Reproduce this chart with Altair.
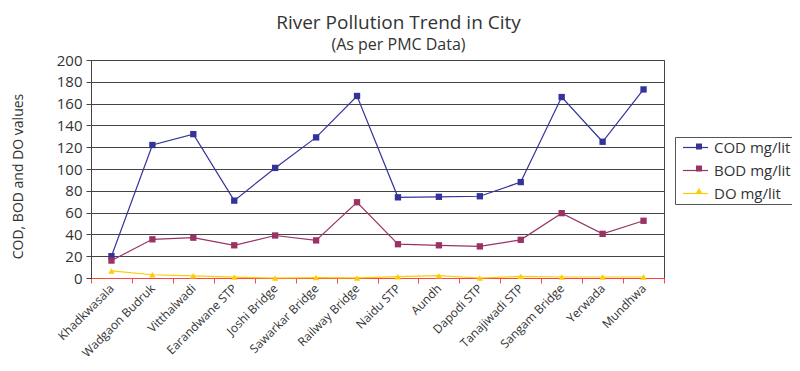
import altair as alt
import pandas as pd

sites = ["Khadkwasala", "Wadgaon Budruk", "Vitthalwadi", "Earandwane STP",
         "Joshi Bridge", "Sawarkar Bridge", "Railway Bridge", "Naidu STP",
         "Aundh", "Dapodi STP", "Tanajiwadi STP", "Sangam Bridge",
         "Yerwada", "Mundhwa"]
cod = [20, 122, 132, 71, 101, 129, 167, 74, 74.5, 75, 88, 166, 125, 173]
bod = [16, 35.5, 37, 30, 39, 34.5, 69.5, 31, 30, 29, 35, 59.5, 40.5, 52.5]
do_vals = [6.5, 3, 2, 0.8, 0, 0.4, 0.1, 1.2, 2.1, 0, 1.5, 0.9, 0.9, 0.9]

series_names = ["COD mg/lit", "BOD mg/lit", "DO mg/lit"]
series_colors = ["#333399", "#993366", "#ffcc00"]
marker_shapes = ["square", "square", "triangle-up"]

rows = []
for name, vals in zip(series_names, [cod, bod, do_vals]):
    for s, v in zip(sites, vals):
        rows.append({"site": s, "value": v, "series": name})
df = pd.DataFrame(rows)

FONT = "Open Sans"
TXT = "#333333"
LEG_X = 584
LEG_Y = 77

x_enc = alt.X(
    "site:N", sort=sites, title=None,
    scale=alt.Scale(paddingInner=0, paddingOuter=0),
    axis=alt.Axis(labelAngle=-45, labelAlign="right", labelBaseline="middle",
                  labelFontSize=12, labelColor=TXT, labelFont=FONT,
                  domainColor="#ff4444", tickColor="#ff4444", tickSize=5,
                  tickBand="extent", labelPadding=3, grid=False),
)
y_enc = alt.Y(
    "value:Q", scale=alt.Scale(domain=[0, 200], nice=False),
    axis=alt.Axis(values=list(range(0, 201, 20)), labelFontSize=15, labelColor=TXT,
                  labelFont=FONT, domainColor="#444444", tickColor="#444444",
                  tickSize=5, labelPadding=4, gridColor="#444444", gridOpacity=1,
                  title="COD, BOD and DO values", titleFont=FONT, titleFontSize=14,
                  titleFontWeight="normal", titleColor=TXT, titleAngle=270,
                  titleX=-73, titleY=116, titleAlign="center", titleBaseline="middle"),
)
color_scale = alt.Scale(domain=series_names, range=series_colors)

leg_lines = alt.Legend(
    title=None, orient="none", legendX=LEG_X, legendY=LEG_Y,
    labelFont=FONT, labelFontSize=15, labelColor=TXT,
    symbolType="M-0.33,0H3.0", symbolSize=225, symbolStrokeWidth=1.2,
    labelOffset=20, rowPadding=6, padding=2, strokeColor="#555555",
)
leg_points = alt.Legend(
    title=None, orient="none", legendX=LEG_X + 14.5, legendY=LEG_Y,
    labelFont=FONT, labelFontSize=15, labelOpacity=0, labelExpr="' '",
    symbolSize=36, labelOffset=20, rowPadding=6, padding=2,
)

lines = alt.Chart(df).mark_line(strokeWidth=1.2).encode(
    x=x_enc, y=y_enc,
    color=alt.Color("series:N", scale=color_scale, legend=leg_lines),
)
points = alt.Chart(df).mark_point(filled=True, size=40, opacity=1).encode(
    x=x_enc, y=y_enc,
    color=alt.Color("series:N", scale=color_scale, legend=leg_points),
    shape=alt.Shape("series:N", scale=alt.Scale(domain=series_names, range=marker_shapes),
                    legend=leg_points),
)

chart = alt.layer(lines, points).resolve_legend(
    color="independent", shape="independent"
).properties(
    width=573, height=218,
    autosize=alt.AutoSizeParams(type="none"),
    padding={"left": 83, "top": 52, "right": 128, "bottom": 85},
    title=alt.TitleParams(
        text="River Pollution Trend in City", subtitle="(As per PMC Data)",
        font=FONT, fontSize=19, fontWeight="normal", color=TXT,
        subtitleFont=FONT, subtitleFontSize=16, subtitleColor=TXT,
        anchor="middle", dx=21, dy=3, offset=3, subtitlePadding=4,
    ),
).configure_view(stroke="#444444", strokeWidth=1)

chart.save("out.html", embed_options={"renderer": "svg", "actions": False})
